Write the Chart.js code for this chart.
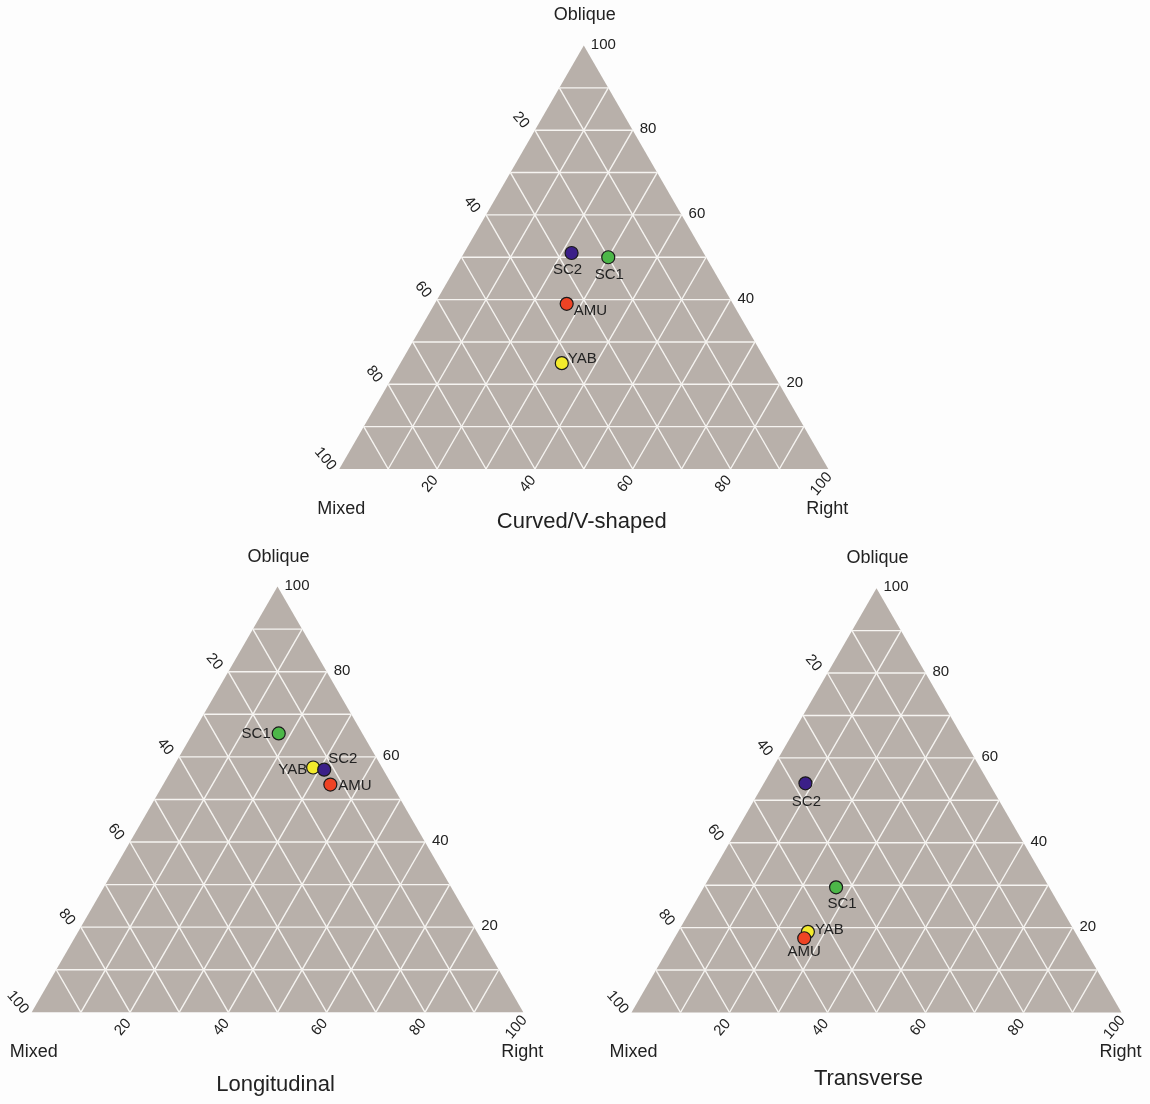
<!DOCTYPE html>
<html>
<head>
<meta charset="utf-8">
<script src="https://cdn.jsdelivr.net/npm/chart.js@4.4.1/dist/chart.umd.min.js"></script>
<style>
  html, body { margin: 0; padding: 0; background: #fdfdfd; }
  body { width: 1150px; height: 1104px; position: relative; overflow: hidden; }
  canvas { position: absolute; }
</style>
</head>
<body>
<canvas id="curved"></canvas>
<canvas id="longitudinal"></canvas>
<canvas id="transverse"></canvas>
<script>
// ---- data: composition (%) of each sample, per fracture type ----
// (earlier entries are drawn on top of later ones)
const tickValues = [20, 40, 60, 80, 100];
const gridSteps = [10, 20, 30, 40, 50, 60, 70, 80, 90];

const curvedSamples = ['SC2', 'SC1', 'AMU', 'YAB'];
const curvedOblique = [51, 50, 39, 25];
const curvedRight   = [22, 30, 27, 33];
const curvedMixed   = [27, 20, 34, 42];

const longSamples = ['SC1', 'SC2', 'YAB', 'AMU'];
const longOblique = [65.5, 57, 57.5, 53.5];
const longRight   = [17.5, 31, 28.5, 34];
const longMixed   = [17, 12, 14, 12.5];

const transSamples = ['SC2', 'SC1', 'AMU', 'YAB'];
const transOblique = [54, 29.5, 17.5, 19];
const transRight   = [8.5, 27, 26.5, 26.5];
const transMixed   = [37.5, 43.5, 56, 54.5];

const axisNames = { top: 'Oblique', left: 'Mixed', right: 'Right' };

// ---- styling ----
const sampleColors = { SC1: '#4cb748', SC2: '#3b1f88', AMU: '#ee4324', YAB: '#f3ea2c' };
const FONT = '"Liberation Sans", Arial, Helvetica, sans-serif';
const TEXT = '#222222';
const FILL = '#b8b0aa';
const SQ3 = Math.sqrt(3) / 2;
const TICK_ANGLE = 50 * Math.PI / 180;

// label placement next to each marker: [dx, dy, align]
const labelOffsets = {
  curved: { SC2: [-4, 17, 'center'], SC1: [1, 18, 'center'], AMU: [7, 7, 'left'], YAB: [6, -4, 'left'] },
  longitudinal: { SC1: [-8, 0, 'right'], YAB: [-6, 2, 'right'], SC2: [4, -11, 'left'], AMU: [8, 1, 'left'] },
  transverse: { SC2: [1, 19, 'center'], SC1: [6, 17, 'center'], YAB: [7, -2, 'left'], AMU: [0, 14, 'center'] }
};

// canvas box and triangle position (left corner, side length) on the page
const frames = {
  curved:       { box: [290, 0, 590, 545],   corner: [339.3, 469],  side: 489,   title: 'Curved/V-shaped', titleDy: 53, titleDx: -2 },
  longitudinal: { box: [0, 545, 565, 559],   corner: [31.7, 1012.3], side: 491.6, title: 'Longitudinal',   titleDy: 73, titleDx: -2 },
  transverse:   { box: [580, 545, 570, 559], corner: [631.5, 1012.5], side: 490,  title: 'Transverse',     titleDy: 66, titleDx: -8 }
};

// ternary composition -> (x, y) in the 0..100 plot space
function toPlane(o, r, m) {
  const t = o + r + m;
  const O = o / t * 100, R = r / t * 100;
  return { x: R + O / 2, y: O };
}

const ternaryPlugin = {
  id: 'ternary',
  beforeDatasetsDraw(chart) {
    const { ctx } = chart;
    const sx = chart.scales.x, sy = chart.scales.y;
    const P = (x, y) => [sx.getPixelForValue(x), sy.getPixelForValue(y)];
    ctx.save();
    // triangle body
    ctx.beginPath();
    ctx.moveTo(...P(0, 0));
    ctx.lineTo(...P(100, 0));
    ctx.lineTo(...P(50, 100));
    ctx.closePath();
    ctx.fillStyle = FILL;
    ctx.fill();
    // 10% grid in three directions
    ctx.strokeStyle = '#f6f4f1';
    ctx.lineWidth = 1.4;
    gridSteps.forEach(k => {
      const segs = [
        [P(k / 2, k), P(100 - k / 2, k)],                 // constant Oblique
        [P(k, 0), P(k + (100 - k) / 2, 100 - k)],         // constant Right
        [P(100 - k, 0), P((100 - k) / 2, 100 - k)]        // constant Mixed
      ];
      segs.forEach(([a, b]) => { ctx.beginPath(); ctx.moveTo(...a); ctx.lineTo(...b); ctx.stroke(); });
    });
    ctx.restore();
  },
  afterDatasetsDraw(chart, args, opts) {
    const { ctx } = chart;
    const sx = chart.scales.x, sy = chart.scales.y;
    const P = (x, y) => [sx.getPixelForValue(x), sy.getPixelForValue(y)];
    ctx.save();
    ctx.fillStyle = TEXT;

    // marker labels
    ctx.font = '15px ' + FONT;
    ctx.textBaseline = 'middle';
    chart.data.datasets.forEach((ds, i) => {
      const meta = chart.getDatasetMeta(i);
      const pt = meta.data[0];
      const off = opts.labels[ds.label];
      ctx.textAlign = off[2];
      ctx.fillText(ds.label, pt.x + off[0], pt.y + off[1]);
    });

    // tick labels
    ctx.font = '15px ' + FONT;
    tickValues.forEach(v => {
      // Oblique along right edge
      let [x, y] = P(100 - v / 2, v);
      ctx.textAlign = 'left';
      ctx.textBaseline = 'middle';
      ctx.fillText(String(v), x + 7, y - 1);
      // Mixed along left edge
      [x, y] = P((100 - v) / 2, 100 - v);
      ctx.save();
      ctx.translate(x - 14, y - 10);
      ctx.rotate(TICK_ANGLE);
      ctx.textAlign = 'center';
      ctx.fillText(String(v), 0, 0);
      ctx.restore();
      // Right along base
      [x, y] = P(v, 0);
      ctx.save();
      ctx.translate(x - 7, y + 15);
      ctx.rotate(-TICK_ANGLE);
      ctx.textAlign = 'center';
      ctx.fillText(String(v), 0, 0);
      ctx.restore();
    });

    // axis names and title
    ctx.font = '18px ' + FONT;
    ctx.textAlign = 'center';
    ctx.textBaseline = 'middle';
    let [ax, ay] = P(50, 100);
    ctx.fillText(axisNames.top, ax + 1, ay - 30);
    [ax, ay] = P(0, 0);
    ctx.fillText(axisNames.left, ax + 2, ay + 40);
    [ax, ay] = P(100, 0);
    ctx.fillText(axisNames.right, ax - 1, ay + 40);
    ctx.font = '22px ' + FONT;
    [ax, ay] = P(50, 0);
    ctx.fillText(opts.title, ax + opts.titleDx, ay + opts.titleDy);
    ctx.restore();
  }
};

function buildChart(id, samples, oblique, right, mixed) {
  const f = frames[id];
  const canvas = document.getElementById(id);
  const [bx, by, bw, bh] = f.box;
  canvas.width = bw; canvas.height = bh;
  canvas.style.left = bx + 'px'; canvas.style.top = by + 'px';
  canvas.style.width = bw + 'px'; canvas.style.height = bh + 'px';
  const h = f.side * SQ3;
  const padding = {
    left: f.corner[0] - bx,
    right: bx + bw - (f.corner[0] + f.side),
    top: f.corner[1] - h - by,
    bottom: by + bh - f.corner[1]
  };
  const datasets = samples.map((s, i) => ({
    label: s,
    data: [toPlane(oblique[i], right[i], mixed[i])],
    backgroundColor: sampleColors[s],
    borderColor: '#1a1a1a',
    borderWidth: 1.2,
    pointRadius: 6.5,
    pointHoverRadius: 6.5
  }));
  return new Chart(canvas, {
    type: 'scatter',
    data: { datasets },
    options: {
      responsive: false,
      animation: false,
      layout: { padding },
      scales: {
        x: { type: 'linear', min: 0, max: 100, display: false },
        y: { type: 'linear', min: 0, max: 100, display: false }
      },
      plugins: {
        legend: { display: false },
        tooltip: { enabled: false },
        ternary: { labels: labelOffsets[id], title: f.title, titleDx: f.titleDx, titleDy: f.titleDy }
      }
    },
    plugins: [ternaryPlugin]
  });
}

buildChart('curved', curvedSamples, curvedOblique, curvedRight, curvedMixed);
buildChart('longitudinal', longSamples, longOblique, longRight, longMixed);
buildChart('transverse', transSamples, transOblique, transRight, transMixed);
</script>
</body>
</html>
